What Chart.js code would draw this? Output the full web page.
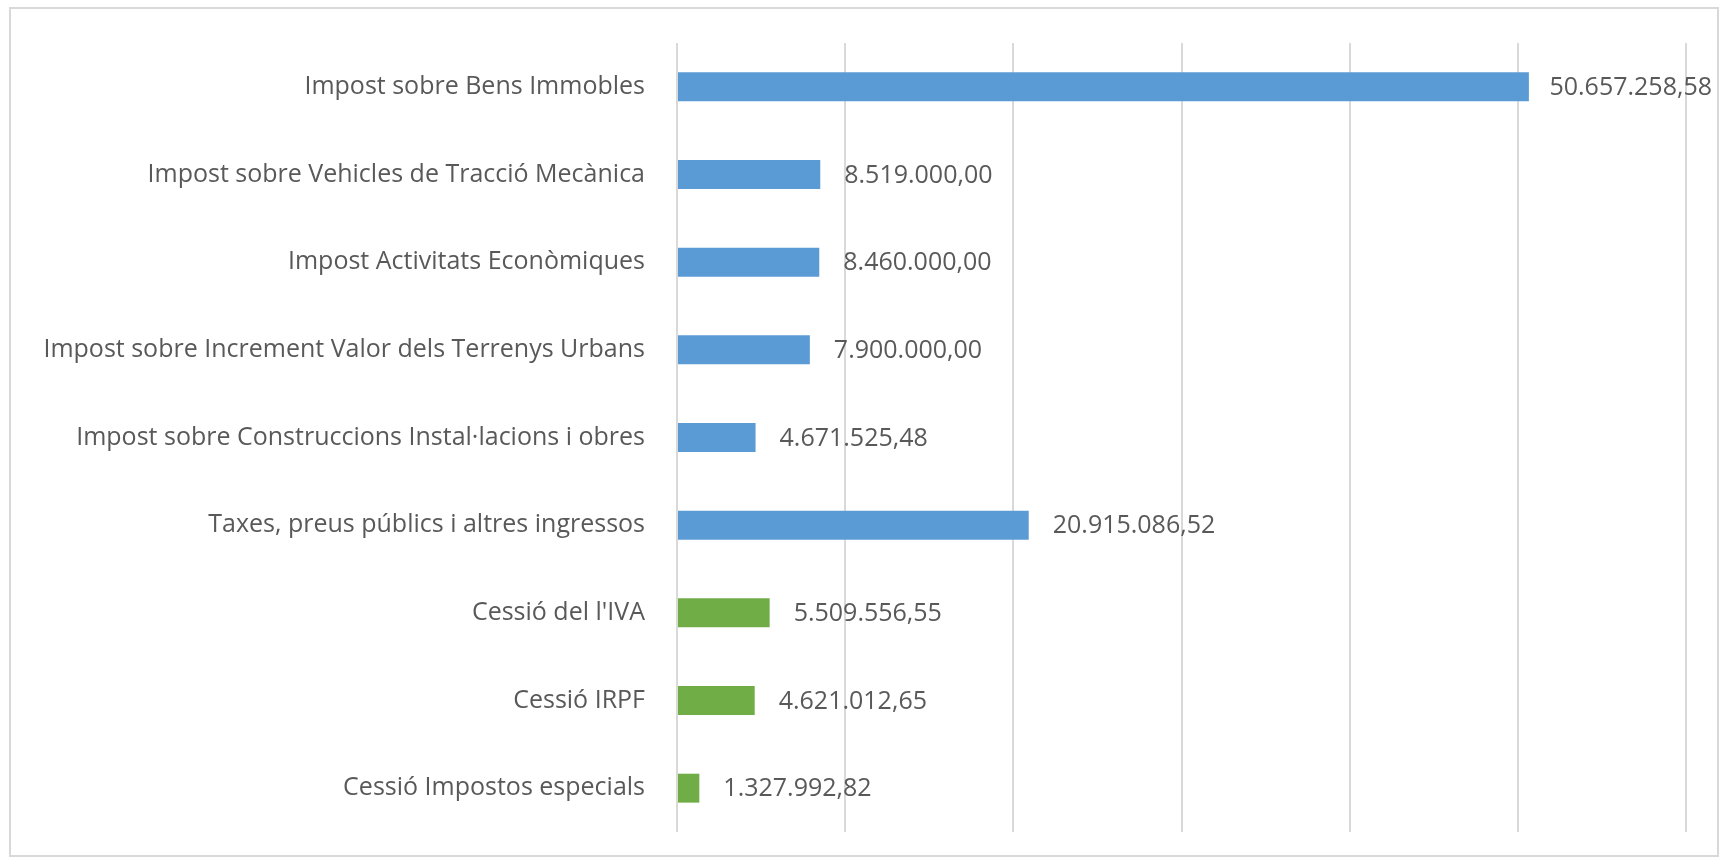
<!DOCTYPE html>
<html>
<head>
<meta charset="utf-8">
<script src="https://cdn.jsdelivr.net/npm/chart.js@4/dist/chart.umd.min.js"></script>
<style>
  html, body { margin: 0; padding: 0; background: #fff; }
  #wrap { position: relative; width: 1729px; height: 860px; }
  #frame { position: absolute; left: 9px; top: 7px; width: 1706px; height: 846px; border: 2px solid #d9d9d9; }
  #chart { position: absolute; left: 0; top: 0; }
</style>
</head>
<body>
<div id="wrap">
  <div id="frame"></div>
  <canvas id="chart" width="1729" height="860"></canvas>
</div>
<script>
const categories = [
  "Impost sobre Bens Immobles",
  "Impost sobre Vehicles de Tracció Mecànica",
  "Impost Activitats Econòmiques",
  "Impost sobre Increment Valor dels Terrenys Urbans",
  "Impost sobre Construccions Instal·lacions i obres",
  "Taxes, preus públics i altres ingressos",
  "Cessió del l'IVA",
  "Cessió IRPF",
  "Cessió Impostos especials"
];
const amounts = [50657258.58, 8519000.00, 8460000.00, 7900000.00, 4671525.48, 20915086.52, 5509556.55, 4621012.65, 1327992.82];
// 0 = own taxes (blue), 1 = transfers from state (green)
const groups = [0, 0, 0, 0, 0, 0, 1, 1, 1];
const groupColors = ["#5b9bd5", "#70ad47"];
const axisMax = 60000000;
const axisStep = 10000000;

const FONT = "'Open Sans', sans-serif";
const TEXT = "#595959";

// 50.657.258,58
function fmt(v) {
  const parts = v.toFixed(2).split(".");
  const int = parts[0].replace(/\B(?=(\d{3})+(?!\d))/g, ".");
  return int + "," + parts[1];
}

const valueLabels = {
  id: "valueLabels",
  afterDatasetsDraw(chart) {
    const ctx = chart.ctx;
    const meta = chart.getDatasetMeta(0);
    ctx.save();
    ctx.font = "25px " + FONT;
    ctx.fillStyle = TEXT;
    ctx.textBaseline = "middle";
    ctx.textAlign = "left";
    meta.data.forEach((bar, i) => {
      const txt = fmt(amounts[i]);
      const w = ctx.measureText(txt).width;
      let x = bar.x + 24;
      if (x + w > 1712) x = 1712 - w;
      ctx.fillText(txt, x, bar.y + 1);
    });
    ctx.restore();
  }
};

document.fonts.load("25px 'Open Sans'").then(() => {
  new Chart(document.getElementById("chart"), {
    type: "bar",
    data: {
      labels: categories,
      datasets: [{
        data: amounts,
        backgroundColor: groups.map(g => groupColors[g]),
        borderWidth: 0,
        barPercentage: 0.33,
        categoryPercentage: 1
      }]
    },
    options: {
      indexAxis: "y",
      responsive: false,
      animation: false,
      layout: { padding: { left: 0, right: 43, top: 43, bottom: 28 } },
      plugins: { legend: { display: false }, tooltip: { enabled: false } },
      scales: {
        x: {
          min: 0,
          max: axisMax,
          ticks: { display: false, stepSize: axisStep },
          grid: { color: "#d9d9d9", lineWidth: 2, drawTicks: false },
          border: { display: false },
          afterFit(scale) { scale.height = 0; }
        },
        y: {
          ticks: { color: TEXT, font: { family: FONT, size: 25 }, padding: 32, autoSkip: false },
          grid: { display: false, drawTicks: false },
          border: { display: false },
          afterFit(scale) {
            scale.width = 677;
            // the labels sit inside their rows, so no extra room above/below
            scale.paddingTop = 0;
            scale.paddingBottom = 0;
          }
        }
      }
    },
    plugins: [valueLabels]
  });
});
</script>
</body>
</html>
